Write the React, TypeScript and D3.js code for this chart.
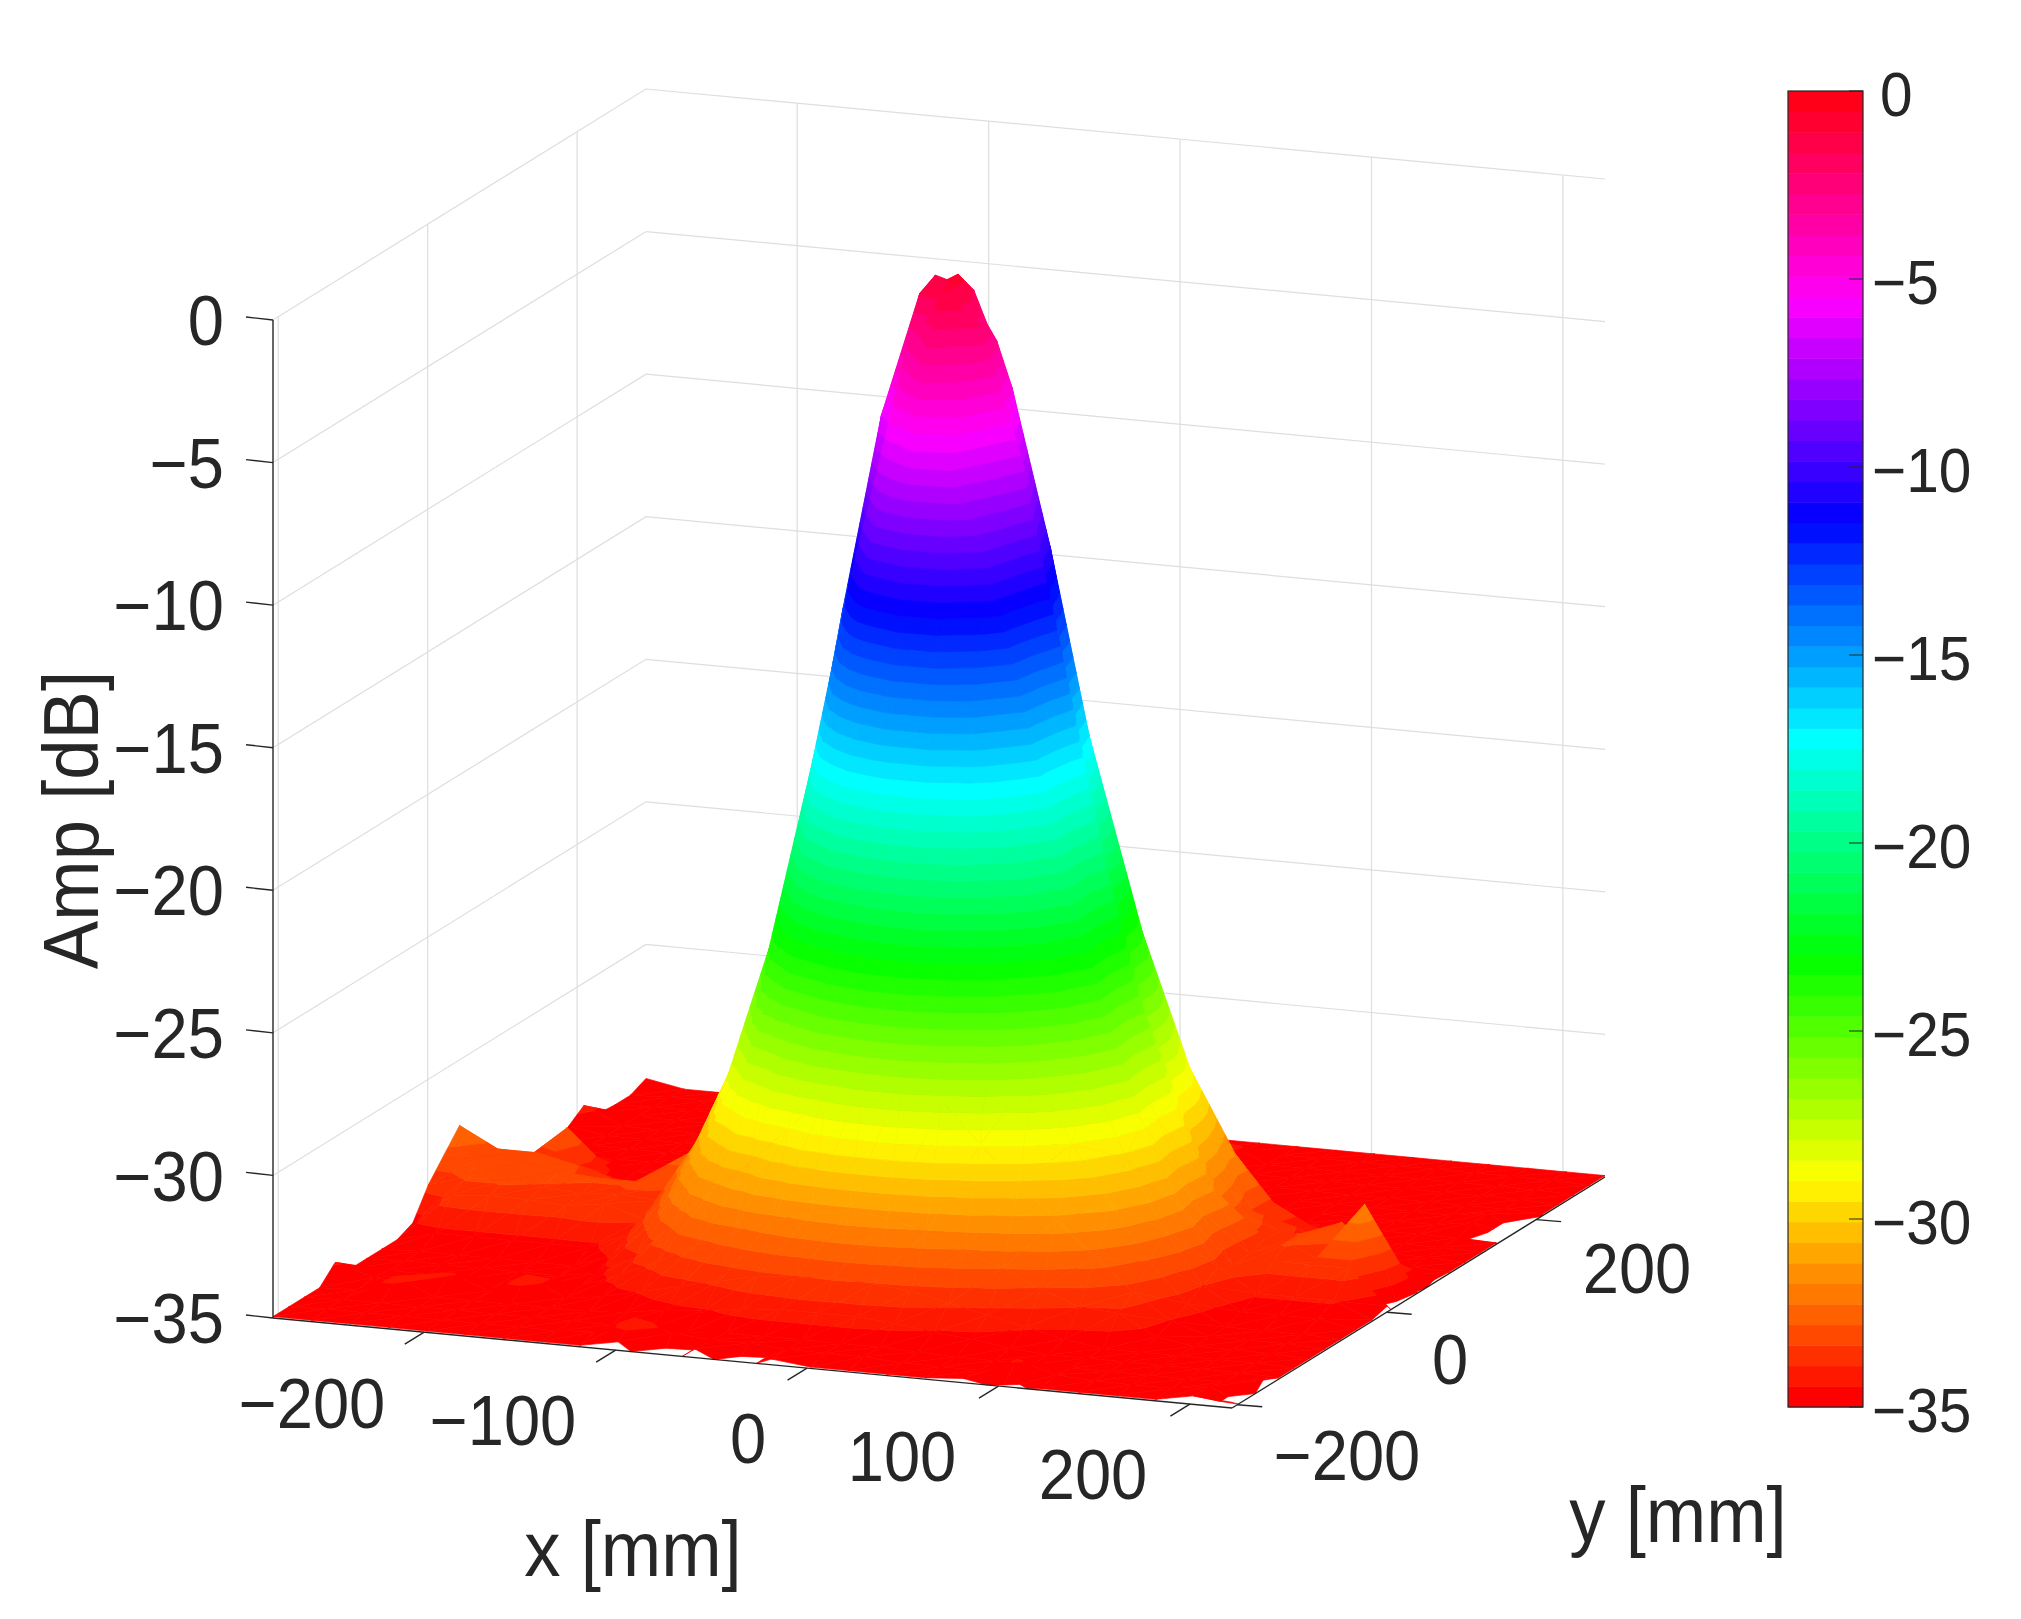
import React, { useEffect, useRef } from 'react';
import * as d3 from 'd3';

const xTicks = [-200, -100, 0, 100, 200];
const yTicks = [-200, 0, 200];
const zTicks = [0, -5, -10, -15, -20, -25, -30, -35];
const barTicks = [0, -5, -10, -15, -20, -25, -30, -35];

const xLimits = [-279, 222];
const yLimits = [-207, 292.2];
const zLimits = [-35, 0];

// measured amplitude in dB, row 0 is the front edge (y = -207), column 0 is x = -279
// anything under -35 falls outside the z limits and leaves a hole, same as the original plot
const ampRows = [
  [-34.95,-34.95,-34.95,-34.95,-34.95,-34.95,-34.95,-34.95,-34.95,-34.7,-35.6,-34.7,-35.3,-34.8,-34.95,-34.95,-34.95,-34.95,-34.85,-35.1,-34.95,-34.95,-34.95,-34.95,-34.7,-34.8],
  [-34.95,-34.9,-34.9,-34.9,-34.9,-34.9,-34.9,-34.9,-34.8,-34.2,-34.6,-34.7,-34.7,-34.8,-34.8,-34.8,-34.9,-34.9,-34.9,-34.4,-34.8,-34.9,-34.9,-34.9,-34.7,-35.3],
  [-34.95,-34.9,-34.9,-34.9,-34.9,-34.9,-34.9,-34.9,-34.9,-34.9,-34.9,-34.8,-34.8,-34.8,-34.8,-34.8,-34.85,-34.9,-34.9,-34.9,-34.9,-34.9,-34.9,-34.9,-34.9,-34.7],
  [-34.95,-34.9,-34.3,-34.9,-34.9,-34.9,-34.9,-34.9,-34.8,-34.6,-34.5,-34.3,-34.2,-34.2,-34.2,-34.3,-34.5,-34.6,-34.8,-34.9,-34.9,-34.9,-34.9,-34.9,-34.9,-34.95],
  [-34.4,-34.8,-34.9,-34.4,-34.9,-34.2,-34.9,-34.7,-34.4,-34.1,-33.8,-33.5,-33.4,-33.3,-33.4,-33.5,-33.8,-34.1,-34.4,-34.7,-34.9,-34.9,-34.9,-34.9,-34.9,-34.95],
  [-34.95,-34.9,-34.9,-34.9,-34.9,-34.9,-34.8,-34.3,-33.7,-33,-32.4,-31.9,-31.5,-31.3,-31.4,-31.8,-32.3,-32.8,-33.4,-33.9,-34,-34.7,-34.9,-34.9,-34.9,-34.95],
  [-34.95,-34.9,-34.9,-34.9,-34.9,-34.9,-34.7,-34,-32.7,-31.4,-30.3,-29,-27.6,-26.7,-26.6,-27.5,-28.9,-30.2,-31.3,-32.5,-33.6,-34.5,-34.9,-34.9,-34.9,-34.95],
  [-34.95,-34.9,-34.9,-34.9,-34.9,-34.9,-34.4,-33.2,-31.5,-29.5,-27.3,-24.7,-22.1,-20.4,-20.2,-21.6,-24,-26.7,-29,-31,-32.9,-34.2,-34.9,-34.9,-34.9,-34.95],
  [-34.95,-34.6,-34.6,-34.6,-34.6,-34.6,-34,-32.6,-30.4,-27.5,-23.8,-19.4,-15.1,-12.5,-12.7,-15.1,-19,-23.1,-26.7,-29.7,-32.1,-33.9,-34.7,-34.7,-34.7,-34.95],
  [-34.7,-33.6,-33.5,-33.5,-33.6,-33.4,-33.8,-32.1,-29.4,-25.6,-20.6,-14.5,-8.9,-6.1,-6.6,-9.9,-15,-20.2,-24.9,-28.7,-31.6,-33.6,-34.4,-34.4,-34.4,-34.95],
  [-33.7,-33.3,-33.3,-33.4,-33.5,-33.4,-33.5,-31.3,-28.3,-23.8,-17.7,-11.1,-5.5,-2.8,-4.3,-8.5,-14.3,-20.3,-25.2,-29,-31.9,-33.9,-33.6,-33.6,-33.6,-34.8],
  [-33,-32.9,-33,-33.2,-33.3,-33.3,-33.3,-31,-27.8,-22.9,-16.4,-9.5,-3.6,-1.1,-2.1,-6.4,-12.8,-19.4,-24.8,-28.7,-31.6,-33.8,-33.3,-33.9,-31.7,-35.7],
  [-32.3,-33,-33,-33.3,-33.8,-33.8,-32.5,-30,-26.3,-20.3,-12.9,-6,-1.6,-0.8,-3,-8.7,-15.6,-21.9,-26.8,-30,-32.7,-33.6,-33.3,-32.8,-33.8,-35.1],
  [-34,-34,-33.5,-33.8,-34.2,-34,-32.9,-30.3,-27,-21.7,-15,-6.5,-1.3,-1.7,-5,-10.5,-16.9,-22.5,-27,-30.3,-33,-33.7,-34,-33.8,-34.9,-34.9],
  [-34.9,-34.8,-32.8,-34.6,-34.7,-34.6,-33.5,-31,-28.1,-24.1,-19,-12.6,-8.4,-8.2,-10.4,-14.6,-20.4,-24.1,-28.1,-31,-33.7,-33.9,-34.7,-34.9,-34.9,-34.95],
  [-34.95,-34.9,-34,-34.9,-34.9,-34.9,-34.2,-31.9,-29.7,-26.8,-23.3,-20,-16.8,-15.5,-16.8,-20,-23.3,-26.8,-29.7,-31.9,-33.5,-34.2,-34.9,-34.9,-34.9,-34.95],
  [-34.95,-34.9,-34.9,-34.9,-34.9,-34.9,-34.6,-33.8,-31.4,-29.3,-27.1,-24.7,-22.9,-22.3,-22.9,-24.7,-27.1,-29.3,-31.4,-33.8,-34.6,-34.9,-34.9,-34.9,-34.9,-34.95],
  [-34.95,-34.9,-34.9,-34.9,-34.9,-34.9,-34.9,-34.5,-33.2,-31.5,-30,-28.7,-27.7,-27.4,-27.7,-28.7,-30,-31.5,-33.2,-34.5,-34.9,-34.9,-34.9,-34.9,-34.9,-34.95],
  [-34.95,-34.9,-34.9,-34.9,-34.9,-34.9,-34.9,-34.9,-34.5,-33.7,-32.4,-31.5,-30.9,-30.7,-30.9,-31.5,-32.4,-33.7,-34.5,-34.9,-34.9,-34.9,-34.9,-34.9,-34.7,-35.5],
  [-34.7,-34.9,-34.9,-34.9,-34.9,-34.9,-34.9,-34.9,-34.9,-34.7,-34.4,-34.1,-33.9,-33.8,-33.9,-34.1,-34.4,-34.7,-34.9,-34.9,-34.9,-34.9,-34.9,-34.9,-34.7,-35.5],
  [-34.3,-34.9,-34.9,-34.9,-34.9,-34.9,-34.9,-34.9,-34.9,-34.9,-34.9,-34.8,-34.7,-34.7,-34.7,-34.8,-34.9,-34.9,-34.9,-34.9,-34.9,-34.9,-34.9,-34.9,-34.9,-34.95],
  [-34.9,-34.9,-34.9,-34.9,-34.9,-34.9,-34.9,-34.9,-34.9,-34.9,-34.9,-34.9,-34.9,-34.9,-34.9,-34.9,-34.9,-34.9,-34.9,-34.9,-34.9,-34.9,-34.9,-34.9,-34.9,-34.95],
  [-34.95,-34.9,-34.9,-34.9,-34.9,-34.9,-34.9,-34.9,-34.9,-34.9,-34.9,-34.9,-34.9,-34.9,-34.9,-34.9,-34.3,-34.9,-34.9,-34.9,-34.9,-34.9,-34.9,-34.9,-34.9,-34.95],
  [-34.95,-34.9,-34.9,-34.9,-34.9,-34.9,-34.9,-34.9,-34.9,-34.9,-34.9,-34.9,-34.9,-34.9,-34.9,-34.9,-34.9,-34.9,-34.9,-34.9,-34.9,-34.9,-34.9,-34.9,-34.9,-34.95],
  [-34.7,-34.95,-34.95,-34.95,-34.95,-34.95,-34.95,-34.95,-34.95,-34.95,-34.95,-34.95,-34.95,-34.95,-34.6,-34.95,-34.95,-34.95,-34.95,-34.95,-34.95,-34.95,-34.95,-34.95,-34.95,-34.95],
];

const nLevels = 64;
// flipped hsv colormap, red at both ends
const levelColors = d3.range(nLevels).map(i => d3.hsl((i / nLevels) * 360, 1, 0.5).formatHex());

const fontFamily = '"Liberation Sans", Arial, sans-serif';
const inkColor = '#262626';
const gridColor = '#dedede';

const corner = { x: 273, y: 1318 };
const xVec = [959, 90];
const yVec = [373, -231];

const toU = d3.scaleLinear().domain(xLimits).range([0, 1]);
const toV = d3.scaleLinear().domain(yLimits).range([0, 1]);
const toLift = d3.scaleLinear().domain(zLimits).range([0, 998]);
const xNodes = d3.scaleLinear().domain([0, 25]).range(xLimits);
const yNodes = d3.scaleLinear().domain([0, 24]).range(yLimits);

const project = (x, y, z) => {
  const u = toU(x), v = toV(y);
  return [corner.x + u * xVec[0] + v * yVec[0], corner.y + u * xVec[1] + v * yVec[1] - toLift(z)];
};

// keep the part of a polygon on one side of a z level
const clipZ = (poly, level, keepAbove) => {
  const out = [];
  poly.forEach((p, i) => {
    const q = poly[(i + 1) % poly.length];
    const pIn = keepAbove ? p[2] >= level : p[2] <= level;
    const qIn = keepAbove ? q[2] >= level : q[2] <= level;
    if (pIn) out.push(p);
    if (pIn !== qIn) {
      const t = (level - p[2]) / (q[2] - p[2]);
      out.push([p[0] + t * (q[0] - p[0]), p[1] + t * (q[1] - p[1]), level]);
    }
  });
  return out;
};

function App() {
  const ref = useRef(null);

  useEffect(() => {
    const svg = d3.select(ref.current);
    svg.selectAll('*').remove();

    const line = d3.line();
    const seg = (g, a, b, color, w) =>
      g.append('line').attr('x1', a[0]).attr('y1', a[1]).attr('x2', b[0]).attr('y2', b[1])
        .attr('stroke', color).attr('stroke-width', w);

    const [xMin, xMax] = xLimits;
    const [yMin, yMax] = yLimits;
    const [zMin, zMax] = zLimits;

    // grid on the two back walls
    const grid = svg.append('g');
    zTicks.forEach(z => {
      grid.append('path')
        .attr('d', line([project(xMin, yMin, z), project(xMin, yMax, z), project(xMax, yMax, z)]))
        .attr('fill', 'none').attr('stroke', gridColor).attr('stroke-width', 1.2);
    });
    yTicks.forEach(y => seg(grid, project(xMin, y, zMin), project(xMin, y, zMax), gridColor, 1.2));
    xTicks.forEach(x => seg(grid, project(x, yMax, zMin), project(x, yMax, zMax), gridColor, 1.2));

    // surface, painted from the back row forward, each triangle cut into colour bands
    const surf = svg.append('g');
    const paintTri = tri => {
      const zs = tri.map(p => p[2]);
      const lowest = Math.max(zMin, d3.min(zs));
      const highest = Math.min(zMax, d3.max(zs));
      if (highest < zMin) return;
      const levelOf = z => Math.max(0, Math.min(nLevels - 1, Math.floor(((z - zMin) / (zMax - zMin)) * nLevels)));
      for (let k = levelOf(lowest); k <= levelOf(highest); k++) {
        const lo = zMin + ((zMax - zMin) * k) / nLevels;
        const hi = zMin + ((zMax - zMin) * (k + 1)) / nLevels;
        const part = clipZ(clipZ(tri, lo, true), hi, false);
        if (part.length < 3) continue;
        surf.append('path')
          .attr('d', line(part.map(p => project(p[0], p[1], p[2]))) + 'Z')
          .attr('fill', levelColors[k])
          .attr('stroke', levelColors[k])
          .attr('stroke-width', 0.7)
          .attr('stroke-linejoin', 'round');
      }
    };
    const node = (i, j) => [xNodes(i), yNodes(j), ampRows[j][i]];
    for (let j = ampRows.length - 2; j >= 0; j--) {
      for (let i = 0; i < ampRows[j].length - 1; i++) {
        paintTri([node(i, j + 1), node(i, j), node(i + 1, j + 1)]);
        paintTri([node(i, j), node(i + 1, j), node(i + 1, j + 1)]);
      }
    }

    // axes
    const axes = svg.append('g');
    const axisW = 1.4;
    seg(axes, project(xMin, yMin, zMin), project(xMax, yMin, zMin), inkColor, axisW);
    seg(axes, project(xMax, yMin, zMin), project(xMax, yMax, zMin), inkColor, axisW);
    seg(axes, project(xMin, yMin, zMin), project(xMin, yMin, zMax), inkColor, axisW);

    // the reference is a little stretched vertically, so its text is narrow for its height
    const label = (g, text, x, y, size, anchor = 'middle', rotate = 0) =>
      g.append('text')
        .attr('transform', `translate(${x},${y}) rotate(${rotate}) scale(0.93,1)`)
        .attr('dy', '0.36em')
        .attr('text-anchor', anchor).attr('font-family', fontFamily)
        .attr('font-size', size).attr('fill', inkColor).text(text);

    const fmt = d3.format('d');
    const xLabelPos = [[312, 1403], [503, 1420], [748, 1438], [902, 1456], [1093, 1474]];
    xTicks.forEach((t, i) => {
      const p = project(t, yMin, zMin);
      seg(axes, p, [p[0] - 19.5, p[1] + 12], inkColor, axisW);
      label(axes, fmt(t), xLabelPos[i][0], xLabelPos[i][1], 70);
    });
    const yLabelPos = [[1347, 1455], [1450, 1359], [1637, 1268]];
    yTicks.forEach((t, i) => {
      const p = project(xMax, t, zMin);
      seg(axes, p, [p[0] + 25, p[1] + 2], inkColor, axisW);
      label(axes, fmt(t), yLabelPos[i][0], yLabelPos[i][1], 70);
    });
    zTicks.forEach(t => {
      const p = project(xMin, yMin, t);
      seg(axes, p, [p[0] - 27, p[1] - 3], inkColor, axisW);
      label(axes, fmt(t), 224, p[1], 70, 'end');
    });

    label(axes, 'x [mm]', 633, 1548, 78);
    label(axes, 'y [mm]', 1678, 1514, 78);
    label(axes, 'Amp [dB]', 70, 820, 78, 'middle', -90);

    // colour bar
    const bar = svg.append('g');
    const barX = 1788, barW = 75;
    const barY = d3.scaleLinear().domain(zLimits).range([1407, 91]);
    levelColors.forEach((c, k) => {
      const lo = zMin + ((zMax - zMin) * k) / nLevels;
      const hi = zMin + ((zMax - zMin) * (k + 1)) / nLevels;
      bar.append('rect').attr('x', barX).attr('y', barY(hi)).attr('width', barW)
        .attr('height', barY(lo) - barY(hi) + 0.5).attr('fill', c);
    });
    bar.append('rect').attr('x', barX).attr('y', barY(zMax)).attr('width', barW)
      .attr('height', barY(zMin) - barY(zMax)).attr('fill', 'none')
      .attr('stroke', inkColor).attr('stroke-width', 1.2);
    barTicks.forEach(t => {
      seg(bar, [barX + barW - 14, barY(t)], [barX + barW, barY(t)], inkColor, 1);
      label(bar, fmt(t), t === 0 ? 1880 : 1872, barY(t) + 2, 63, 'start');
    });
  }, []);

  return (
    <svg ref={ref} width={2021} height={1619}
      style={{ position: 'absolute', left: 0, top: 0, background: '#fff' }} />
  );
}

export default App;
